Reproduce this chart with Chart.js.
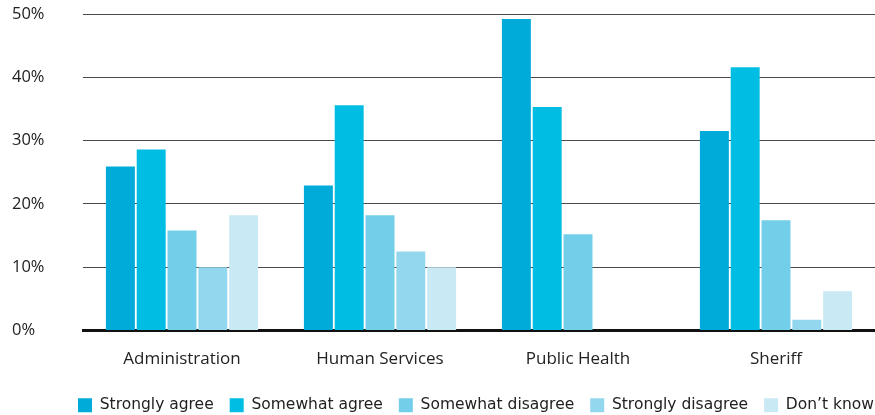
<!DOCTYPE html>
<html>
<head>
<meta charset="utf-8">
<script src="https://cdn.jsdelivr.net/npm/chart.js@4"></script>
<style>
html,body{margin:0;padding:0;background:#fff;}
#wrap{width:875px;height:415px;}
</style>
</head>
<body>
<div id="wrap"><canvas id="c"></canvas></div>
<script>
const categories = ["Administration", "Human Services", "Public Health", "Sheriff"];
const seriesNames = ["Strongly agree", "Somewhat agree", "Somewhat disagree", "Strongly disagree", "Don\u2019t know"];
const stronglyAgree = [25.9, 22.9, 49.2, 31.5];
const somewhatAgree = [28.6, 35.6, 35.3, 41.6];
const somewhatDisagree = [15.8, 18.2, 15.2, 17.4];
const stronglyDisagree = [10.0, 12.5, 0, 1.7];
const dontKnow = [18.2, 10.0, 0, 6.2];
const yTicks = [0, 10, 20, 30, 40, 50];
const colors = ["#00abda", "#00bee3", "#72cee9", "#93d7ee", "#c9e9f4"];

const seriesValues = [stronglyAgree, somewhatAgree, somewhatDisagree, stronglyDisagree, dontKnow];

const legendShift = {
  id: 'legendShift',
  afterLayout(chart) {
    if (chart.legend) { chart.legend.left += 15; chart.legend.right += 15; }
  }
};

new Chart(document.getElementById('c'), {
  type: 'bar',
  data: {
    labels: categories,
    datasets: seriesValues.map((v, i) => ({
      label: seriesNames[i],
      data: v,
      backgroundColor: colors[i],
      borderWidth: 0,
      categoryPercentage: 0.778,
      barPercentage: 0.94
    }))
  },
  plugins: [legendShift],
  options: {
    responsive: true,
    maintainAspectRatio: false,
    animation: false,
    layout: { padding: { top: 14, right: 0, left: 12, bottom: -8 } },
    plugins: {
      tooltip: { enabled: false },
      legend: {
        position: 'bottom',
        align: 'end',
        labels: {
          boxWidth: 14,
          boxHeight: 14,
          padding: 16,
          color: '#222',
          font: { family: "'DejaVu Sans'", size: 15.5 }
        }
      }
    },
    scales: {
      x: {
        grid: { display: false },
        border: { display: true, color: '#111', width: 3 },
        ticks: { color: '#222', padding: 10, font: { family: "'Open Sans'", size: 17 } },
        afterFit: (s) => { s.height = 51; }
      },
      y: {
        min: 0,
        max: 50,
        afterBuildTicks: (s) => { s.ticks = yTicks.map(v => ({ value: v })); },
        border: { display: false },
        grid: { color: '#4a4a4a', lineWidth: 1, drawTicks: false },
        ticks: {
          color: '#222',
          crossAlign: 'far',
          padding: 0,
          font: { family: "'Open Sans'", size: 16.5 },
          callback: (v) => v + '%'
        },
        afterFit: (s) => { s.width = 71; }
      }
    }
  }
});
</script>
</body>
</html>
